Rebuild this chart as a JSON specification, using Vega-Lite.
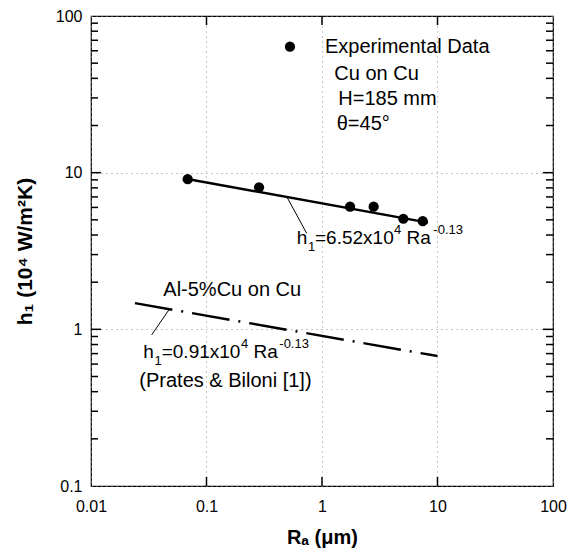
{
  "$schema": "https://vega.github.io/schema/vega-lite/v6.json",
  "width": 462,
  "height": 470,
  "autosize": "none",
  "padding": {"left": 91, "top": 16, "right": 25, "bottom": 66},
  "background": "white",
  "config": {
    "font": "Liberation Sans",
    "view": {"stroke": "black", "strokeWidth": 1.2},
    "axis": {"domain": false, "labelColor": "black", "titleColor": "black", "labelFont": "Liberation Sans", "titleFont": "Liberation Sans"}
  },
  "datasets": {
    "points": [
      {"x": 0.0687, "y": 9.08},
      {"x": 0.285, "y": 8.07},
      {"x": 1.75, "y": 6.07},
      {"x": 2.8, "y": 6.07},
      {"x": 5.06, "y": 5.08},
      {"x": 7.45, "y": 4.9}
    ],
    "legendDot": [{"x": 0.528, "y": 63.7}],
    "fit": [{"x": 0.072, "y": 9.05}, {"x": 8.28, "y": 4.8}],
    "prates": [{"x": 0.024, "y": 1.47}, {"x": 10, "y": 0.675}],
    "leaders": [
      {"id": "a", "x": 0.495, "y": 7.03},
      {"id": "a", "x": 0.737, "y": 4.1},
      {"id": "b", "x": 0.0483, "y": 1.363},
      {"id": "b", "x": 0.0335, "y": 0.921}
    ],
    "minorY": [
      {"v": 0.2}, {"v": 0.3}, {"v": 0.4}, {"v": 0.5}, {"v": 0.6}, {"v": 0.7}, {"v": 0.8}, {"v": 0.9},
      {"v": 2}, {"v": 3}, {"v": 4}, {"v": 5}, {"v": 6}, {"v": 7}, {"v": 8}, {"v": 9},
      {"v": 20}, {"v": 30}, {"v": 40}, {"v": 50}, {"v": 60}, {"v": 70}, {"v": 80}, {"v": 90}
    ],
    "majorY": [{"v": 1}, {"v": 10}],
    "majorX": [{"v": 0.1}, {"v": 1}, {"v": 10}],
    "legendText": [
      {"x": 1.062, "y": 57.8, "t": "Experimental Data"},
      {"x": 1.278, "y": 39.05, "t": "Cu on Cu"},
      {"x": 1.384, "y": 27.04, "t": "H=185 mm"},
      {"x": 1.341, "y": 18.73, "t": "θ=45°"},
      {"x": 0.04227, "y": 1.634, "t": "Al-5%Cu on Cu"},
      {"x": 0.02619, "y": 0.429, "t": "(Prates & Biloni [1])"}
    ],
    "formulaText": [
      {"x": 0.604, "y": 3.508, "t": "h"},
      {"x": 0.87, "y": 3.508, "t": "=6.52x10"},
      {"x": 5.391, "y": 3.508, "t": "Ra"},
      {"x": 0.02836, "y": 0.654, "t": "h"},
      {"x": 0.04094, "y": 0.654, "t": "=0.91x10"},
      {"x": 0.2552, "y": 0.654, "t": "Ra"}
    ],
    "smallText": [
      {"x": 0.7565, "y": 3.165, "t": "1"},
      {"x": 4.202, "y": 4.063, "t": "4"},
      {"x": 9.2, "y": 4.063, "t": "-0.13"},
      {"x": 0.03546, "y": 0.59, "t": "1"},
      {"x": 0.1989, "y": 0.7576, "t": "4"},
      {"x": 0.4269, "y": 0.7576, "t": "-0.13"}
    ]
  },
  "resolve": {"axis": {"x": "independent", "y": "independent"}},
  "layer": [
    {
      "data": {"name": "points"},
      "mark": {"type": "point", "filled": true, "color": "black", "opacity": 1, "size": 105},
      "encoding": {
        "x": {"field": "x", "type": "quantitative",
          "scale": {"type": "log", "domain": [0.01, 100], "nice": false},
          "axis": {"orient": "bottom", "values": [0.01, 0.1, 1, 10, 100], "ticks": false,
            "labelExpr": "format(datum.value, '~g')", "labelFontSize": 16, "labelPadding": 12, "labelFlush": false, "labelOverlap": false,
            "grid": true, "gridDash": [1, 4], "gridColor": "#888", "gridWidth": 1,
            "title": "Rₐ (μm)", "titleFontSize": 20, "titleFontWeight": "bold", "titlePadding": 13}},
        "y": {"field": "y", "type": "quantitative",
          "scale": {"type": "log", "domain": [0.1, 100], "nice": false},
          "axis": {"orient": "left", "values": [0.1, 1, 10, 100], "ticks": false,
            "labelExpr": "format(datum.value, '~g')",
            "labelFontSize": 16, "labelPadding": 9, "labelFlush": false, "labelOverlap": false,
            "grid": true, "gridDash": [1, 4], "gridColor": "#888", "gridWidth": 1,
            "title": "h₁ (10⁴ W/m²K)", "titleFontSize": 21, "titleFontWeight": "bold", "titlePadding": 20}}
      }
    },
    {
      "data": {"name": "minorY"},
      "mark": {"type": "tick", "orient": "horizontal", "size": 14, "thickness": 1.5, "color": "black", "opacity": 1, "clip": true},
      "encoding": {
        "x": {"datum": 0.01, "type": "quantitative", "axis": null},
        "y": {"field": "v", "type": "quantitative", "axis": null}
      }
    },
    {
      "data": {"name": "minorY"},
      "mark": {"type": "tick", "orient": "horizontal", "size": 14, "thickness": 1.5, "color": "black", "opacity": 1, "clip": true},
      "encoding": {
        "x": {"datum": 100, "type": "quantitative", "axis": null},
        "y": {"field": "v", "type": "quantitative", "axis": null}
      }
    },
    {
      "data": {"name": "majorY"},
      "mark": {"type": "tick", "orient": "horizontal", "size": 20, "thickness": 1.5, "color": "black", "opacity": 1, "clip": true},
      "encoding": {
        "x": {"datum": 0.01, "type": "quantitative", "axis": null},
        "y": {"field": "v", "type": "quantitative", "axis": null}
      }
    },
    {
      "data": {"name": "majorY"},
      "mark": {"type": "tick", "orient": "horizontal", "size": 20, "thickness": 1.5, "color": "black", "opacity": 1, "clip": true},
      "encoding": {
        "x": {"datum": 100, "type": "quantitative", "axis": null},
        "y": {"field": "v", "type": "quantitative", "axis": null}
      }
    },
    {
      "data": {"name": "majorX"},
      "mark": {"type": "tick", "orient": "vertical", "size": 18, "thickness": 1.5, "color": "black", "opacity": 1, "clip": true},
      "encoding": {
        "x": {"field": "v", "type": "quantitative", "axis": null},
        "y": {"datum": 0.1, "type": "quantitative", "axis": null}
      }
    },
    {
      "data": {"name": "majorX"},
      "mark": {"type": "tick", "orient": "vertical", "size": 18, "thickness": 1.5, "color": "black", "opacity": 1, "clip": true},
      "encoding": {
        "x": {"field": "v", "type": "quantitative", "axis": null},
        "y": {"datum": 100, "type": "quantitative", "axis": null}
      }
    },
    {
      "data": {"name": "fit"},
      "mark": {"type": "line", "color": "black", "strokeWidth": 2.5},
      "encoding": {
        "x": {"field": "x", "type": "quantitative", "axis": null},
        "y": {"field": "y", "type": "quantitative", "axis": null}
      }
    },
    {
      "data": {"name": "prates"},
      "mark": {"type": "line", "color": "black", "strokeWidth": 2.5, "strokeDash": [38, 9, 2, 9]},
      "encoding": {
        "x": {"field": "x", "type": "quantitative", "axis": null},
        "y": {"field": "y", "type": "quantitative", "axis": null}
      }
    },
    {
      "data": {"name": "leaders"},
      "mark": {"type": "line", "color": "black", "strokeWidth": 1},
      "encoding": {
        "x": {"field": "x", "type": "quantitative", "axis": null},
        "y": {"field": "y", "type": "quantitative", "axis": null},
        "detail": {"field": "id"}
      }
    },
    {
      "data": {"name": "legendDot"},
      "mark": {"type": "point", "filled": true, "color": "black", "opacity": 1, "size": 105},
      "encoding": {
        "x": {"field": "x", "type": "quantitative", "axis": null},
        "y": {"field": "y", "type": "quantitative", "axis": null}
      }
    },
    {
      "data": {"name": "legendText"},
      "mark": {"type": "text", "align": "left", "baseline": "alphabetic", "fontSize": 20, "color": "black", "font": "Liberation Sans"},
      "encoding": {
        "x": {"field": "x", "type": "quantitative", "axis": null},
        "y": {"field": "y", "type": "quantitative", "axis": null},
        "text": {"field": "t"}
      }
    },
    {
      "data": {"name": "formulaText"},
      "mark": {"type": "text", "align": "left", "baseline": "alphabetic", "fontSize": 19, "color": "black", "font": "Liberation Sans"},
      "encoding": {
        "x": {"field": "x", "type": "quantitative", "axis": null},
        "y": {"field": "y", "type": "quantitative", "axis": null},
        "text": {"field": "t"}
      }
    },
    {
      "data": {"name": "smallText"},
      "mark": {"type": "text", "align": "left", "baseline": "alphabetic", "fontSize": 13, "color": "black", "font": "Liberation Sans"},
      "encoding": {
        "x": {"field": "x", "type": "quantitative", "axis": null},
        "y": {"field": "y", "type": "quantitative", "axis": null},
        "text": {"field": "t"}
      }
    }
  ]
}
